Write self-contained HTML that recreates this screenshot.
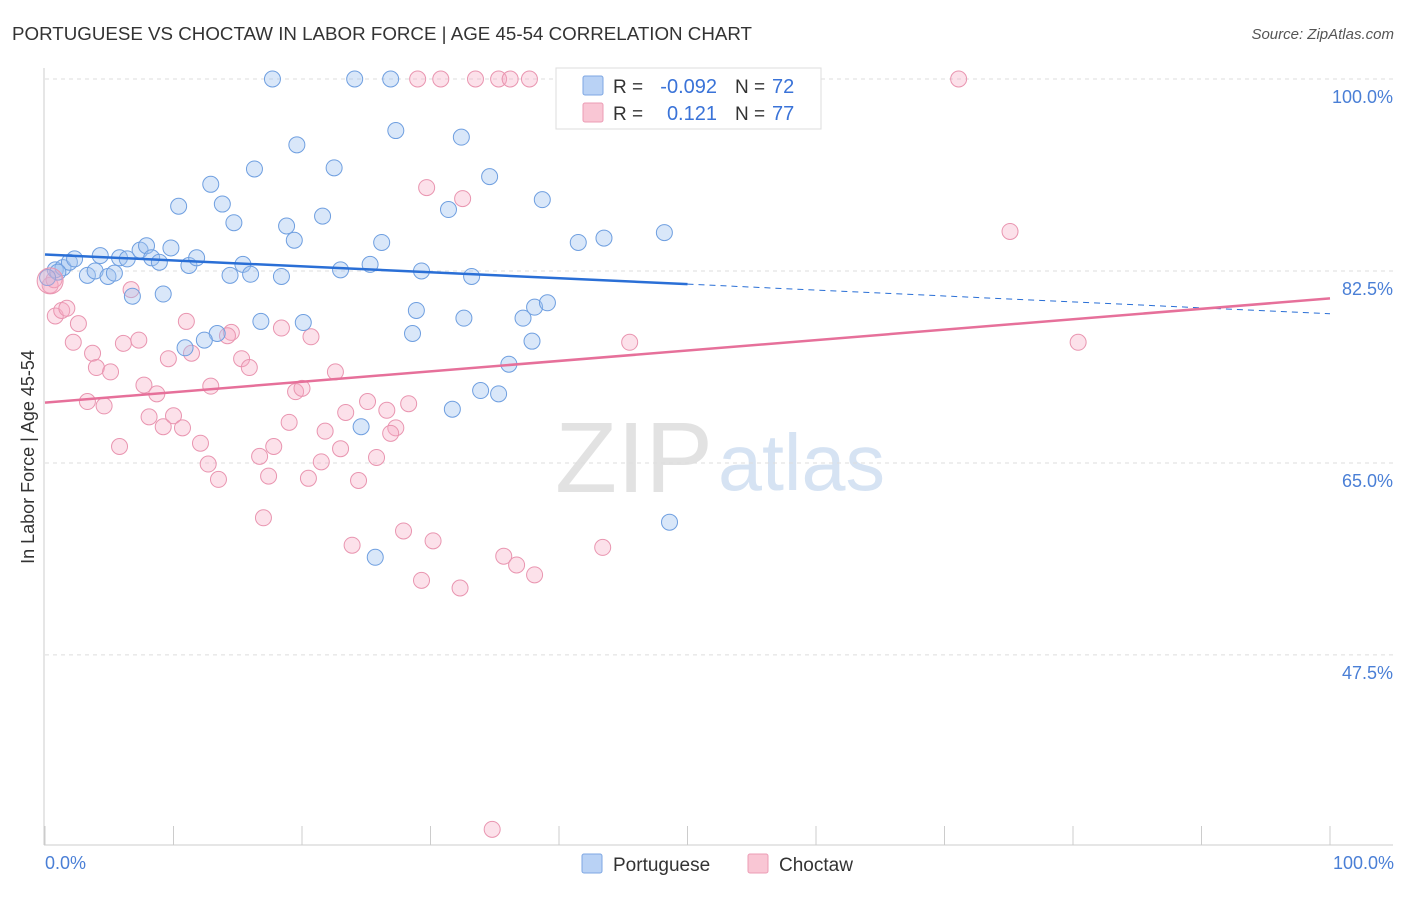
<!DOCTYPE html>
<html><head><meta charset="utf-8"><style>
body{margin:0;background:#fff;font-family:"Liberation Sans",sans-serif;}
svg text{font-family:"Liberation Sans",sans-serif;}
</style></head><body>
<svg id="chart" width="1406" height="892" viewBox="0 0 1406 892" xmlns="http://www.w3.org/2000/svg">
<text x="12" y="40" font-size="18" fill="#333" textLength="740" lengthAdjust="spacingAndGlyphs">PORTUGUESE VS CHOCTAW IN LABOR FORCE | AGE 45-54 CORRELATION CHART</text>
<text x="1394" y="39" font-size="15" fill="#555" text-anchor="end" font-style="italic">Source: ZipAtlas.com</text>
<text x="713" y="492" font-size="100" fill="#e2e2e2" text-anchor="end" font-family="Liberation Serif" textLength="158" lengthAdjust="spacingAndGlyphs">ZIP</text>
<text x="718" y="490" font-size="80" fill="#d6e3f3" textLength="167" lengthAdjust="spacingAndGlyphs">atlas</text>
<g id="grid"></g>
<line x1="44" y1="68" x2="44" y2="845" stroke="#ccc"/>
<line x1="44" y1="845" x2="1393" y2="845" stroke="#ccc"/>
<text transform="translate(34,457) rotate(-90)" font-size="18" fill="#333" text-anchor="middle">In Labor Force | Age 45-54</text>
<text x="45" y="869" font-size="18" fill="#4a7fd6">0.0%</text>
<text x="1394" y="869" font-size="18" fill="#4a7fd6" text-anchor="end">100.0%</text>
<g id="marks"></g>
<g id="trends"></g>
<g>
<rect x="556" y="68" width="265" height="61" fill="#fff" stroke="#ddd"/>
<rect x="583" y="76" width="20" height="19" fill="#b9d2f5" stroke="#7ea7e3" rx="2"/>
<rect x="583" y="103" width="20" height="19" fill="#f9c6d4" stroke="#ec9cb5" rx="2"/>
<text x="613" y="93" font-size="19" fill="#333">R =</text>
<text x="717" y="93" font-size="20" fill="#3a73d8" text-anchor="end">-0.092</text>
<text x="735" y="93" font-size="19" fill="#333">N =</text>
<text x="772" y="93" font-size="20" fill="#3a73d8">72</text>
<text x="613" y="120" font-size="19" fill="#333">R =</text>
<text x="717" y="120" font-size="20" fill="#3a73d8" text-anchor="end">0.121</text>
<text x="735" y="120" font-size="19" fill="#333">N =</text>
<text x="772" y="120" font-size="20" fill="#3a73d8">77</text>
</g>
<g>
<rect x="582" y="854" width="20" height="19" fill="#b9d2f5" stroke="#7ea7e3" rx="2"/>
<text x="613" y="871" font-size="19" fill="#333">Portuguese</text>
<rect x="748" y="854" width="20" height="19" fill="#f9c6d4" stroke="#ec9cb5" rx="2"/>
<text x="779" y="871" font-size="19" fill="#333">Choctaw</text>
</g>
</svg>
<script>
const yTicks=[100,82.5,65,47.5];
const yTickLabels=["100.0%","82.5%","65.0%","47.5%"];
const xTicks=[0,10,20,30,40,50,60,70,80,90,100];
const blueX=[17.7,24.1,26.9,45.4,27.3,32.4,19.6,22.5,16.3,34.6,12.9,10.4,13.8,31.4,38.7,21.6,14.7,18.8,19.4,26.2,41.5,43.5,48.2,0.8,1.4,1.9,2.3,3.3,3.9,4.3,4.9,5.4,5.8,6.4,7.4,7.9,8.3,8.9,9.8,11.2,11.8,14.4,15.4,16.0,18.4,23.0,25.3,29.3,33.2,6.8,9.2,16.8,20.1,28.9,32.6,37.2,38.1,39.1,13.4,12.4,10.9,28.6,37.9,36.1,33.9,35.3,31.7,24.6,48.6,25.7,1.0,0.2];
const blueY=[100,100,100,100,95.3,94.7,94.0,91.9,91.8,91.1,90.4,88.4,88.6,88.1,89.0,87.5,86.9,86.6,85.3,85.1,85.1,85.5,86.0,82.6,82.8,83.3,83.6,82.1,82.5,83.9,82.0,82.3,83.7,83.6,84.4,84.8,83.7,83.3,84.6,83.0,83.7,82.1,83.1,82.2,82.0,82.6,83.1,82.5,82.0,80.2,80.4,77.9,77.8,78.9,78.2,78.2,79.2,79.6,76.8,76.2,75.5,76.8,76.1,74.0,71.6,71.3,69.9,68.3,59.6,56.4,82.4,81.9];
const pinkX=[29.0,30.8,33.5,35.3,36.2,37.7,71.1,29.7,32.5,75.1,0.4,0.7,0.8,1.3,1.7,2.6,2.2,3.7,4.0,5.1,6.7,6.1,7.3,11.0,14.5,14.2,11.4,9.6,15.3,15.9,18.4,20.7,7.7,8.7,12.9,19.5,20.0,22.6,3.3,4.6,8.1,9.2,10.0,10.7,19.0,23.4,25.1,26.6,28.3,21.8,27.3,26.9,12.1,16.7,17.8,23.0,25.8,21.5,12.7,17.4,20.5,24.4,13.5,5.8,17.0,45.5,80.4,23.9,27.9,30.2,35.7,36.7,38.1,43.4,29.3,32.3,34.8];
const pinkY=[100,100,100,100,100,100,100,90.1,89.1,86.1,81.2,81.7,78.4,78.9,79.1,77.7,76.0,75.0,73.7,73.3,80.8,75.9,76.2,77.9,76.9,76.6,75.0,74.5,74.5,73.7,77.3,76.5,72.1,71.3,72.0,71.5,71.8,73.3,70.6,70.2,69.2,68.3,69.3,68.2,68.7,69.6,70.6,69.8,70.4,67.9,68.2,67.7,66.8,65.6,66.5,66.3,65.5,65.1,64.9,63.8,63.6,63.4,63.5,66.5,60.0,76.0,76.0,57.5,58.8,57.9,56.5,55.7,54.8,57.3,54.3,53.6,31.6];
const blueTrend=[84.0,78.6];
const pinkTrend=[70.5,80.0];
const NS="http://www.w3.org/2000/svg";
const xs=v=>45+v*12.85;
const ys=v=>79+(100-v)*10.97;
function mk(tag,attrs,parent){const e=document.createElementNS(NS,tag);for(const k in attrs)e.setAttribute(k,attrs[k]);parent.appendChild(e);return e;}
const grid=document.getElementById('grid');
yTicks.forEach((t,i)=>{
 const l=mk('line',{x1:45,x2:1393,y1:ys(t),y2:ys(t),stroke:'#ddd','stroke-dasharray':'4,4'},grid);
 
 
 const tx=mk('text',{x:1393,y:ys(t)+24,'font-size':18,fill:'#4a7fd6','text-anchor':'end'},grid);
 tx.textContent=yTickLabels[i];
 
 
});
xTicks.forEach(t=>{
 const l=mk('line',{x1:xs(t),x2:xs(t),y1:826,y2:845,stroke:'#ccc'},grid);
 
 
});
const marks=document.getElementById('marks');
pinkX.forEach((x,i)=>{
 const c=mk('circle',{cx:xs(x),cy:ys(pinkY[i]),r:8,fill:'rgba(245,170,195,0.35)',stroke:'#e995b0','stroke-width':1},marks);
 
 
});
blueX.forEach((x,i)=>{
 const c=mk('circle',{cx:xs(x),cy:ys(blueY[i]),r:8,fill:'rgba(160,195,240,0.4)',stroke:'#6f9fe0','stroke-width':1},marks);
 
 
});
const big=mk('circle',{cx:xs(0.4),cy:ys(81.6),r:13,fill:'rgba(245,170,195,0.35)',stroke:'#e995b0'},marks);


const tr=document.getElementById('trends');
const bAt=x=>blueTrend[0]+(blueTrend[1]-blueTrend[0])*x/100;
const b1=mk('line',{x1:xs(0),y1:ys(bAt(0)),x2:xs(50),y2:ys(bAt(50)),stroke:'#2a6fd6','stroke-width':2.5},tr);


const b2=mk('line',{x1:xs(50),y1:ys(bAt(50)),x2:xs(100),y2:ys(bAt(100)),stroke:'#2a6fd6','stroke-width':1,'stroke-dasharray':'6,5'},tr);


const p1=mk('line',{x1:xs(0),y1:ys(pinkTrend[0]),x2:xs(100),y2:ys(pinkTrend[1]),stroke:'#e6709a','stroke-width':2.5},tr);


</script>
</body></html>
